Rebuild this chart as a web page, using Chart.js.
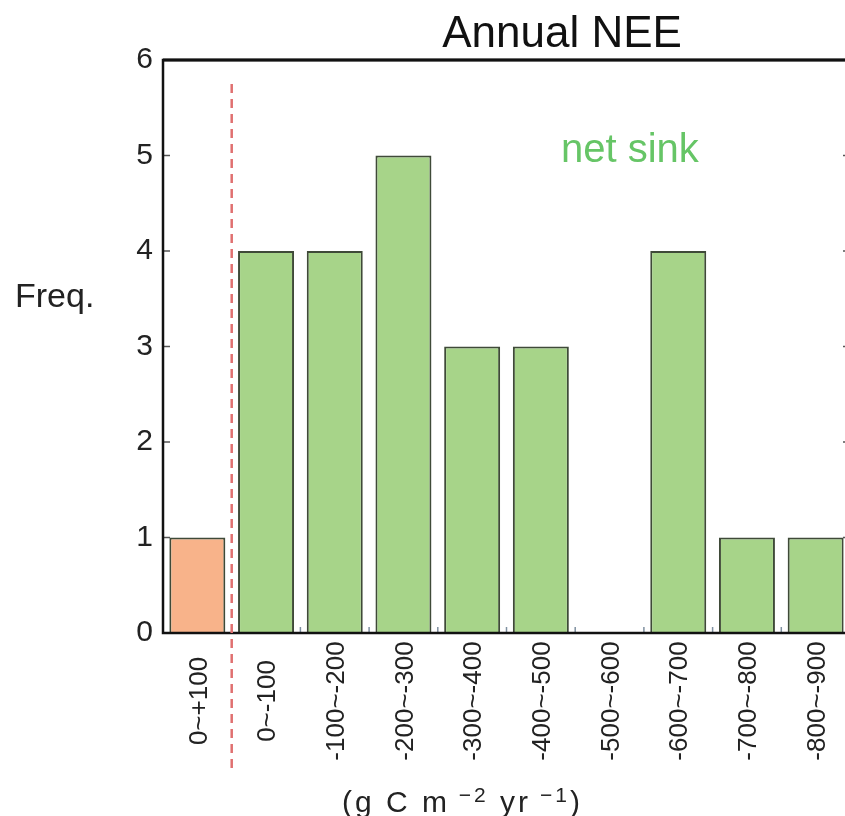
<!DOCTYPE html>
<html>
<head>
<meta charset="utf-8">
<script src="https://cdn.jsdelivr.net/npm/chart.js@4.4.1/dist/chart.umd.min.js"></script>
<style>
html,body{margin:0;padding:0;overflow:hidden;background:#fff;}
#wrap{width:880px;height:816px;}
</style>
</head>
<body>
<div id="wrap"><canvas id="c" width="880" height="816"></canvas></div>
<script>
// ---- data ----
const categories = ['0~+100','0~-100','-100~-200','-200~-300','-300~-400','-400~-500','-500~-600','-600~-700','-700~-800','-800~-900'];
const frequency = [1,4,4,5,3,3,0,4,1,1];
const yTicks = [0,1,2,3,4,5,6];
const chartTitle = 'Annual NEE';
const yTitle = 'Freq.';
const annotationText = 'net sink';

const FONT = "'Liberation Sans', Arial, Helvetica, sans-serif";
const ORANGE = '#f8b38a';
const GREEN = '#a7d489';

const overlay = {
  id: 'overlay',
  afterDatasetsDraw(chart) {
    const ctx = chart.ctx;
    const a = chart.chartArea;
    const xs = chart.scales.x, ys = chart.scales.y;
    ctx.save();
    // bottom ticks at category boundaries
    ctx.strokeStyle = '#7f90a0';
    ctx.lineWidth = 1.5;
    for (let i = 1; i < categories.length; i++) {
      const bx = (xs.getPixelForValue(i - 1) + xs.getPixelForValue(i)) / 2;
      ctx.beginPath(); ctx.moveTo(bx, a.bottom); ctx.lineTo(bx, a.bottom - 6); ctx.stroke();
    }
    // y ticks inside (left and right)
    ctx.strokeStyle = '#555';
    ctx.lineWidth = 1.5;
    yTicks.forEach(v => {
      if (v === yTicks[0] || v === yTicks[yTicks.length - 1]) return;
      const py = ys.getPixelForValue(v);
      ctx.beginPath(); ctx.moveTo(a.left, py); ctx.lineTo(a.left + 7, py); ctx.stroke();
      ctx.beginPath(); ctx.moveTo(a.right, py); ctx.lineTo(a.right - 7, py); ctx.stroke();
    });
    // frame
    ctx.strokeStyle = '#111';
    ctx.lineWidth = 2.5;
    ctx.strokeRect(a.left, a.top, a.right - a.left, a.bottom - a.top);
    ctx.lineWidth = 3;
    ctx.beginPath(); ctx.moveTo(a.left, a.top); ctx.lineTo(a.right, a.top); ctx.stroke();
    // dashed source/sink divider
    const dx = (xs.getPixelForValue(0) + xs.getPixelForValue(1)) / 2;
    ctx.strokeStyle = '#e07070';
    ctx.lineWidth = 2.5;
    ctx.setLineDash([9, 6]);
    ctx.beginPath(); ctx.moveTo(dx, a.top + 24); ctx.lineTo(dx, a.bottom + 135); ctx.stroke();
    ctx.setLineDash([]);
    // x labels, rotated, centred
    ctx.fillStyle = '#222';
    ctx.font = '26px ' + FONT;
    ctx.textAlign = 'center';
    ctx.textBaseline = 'middle';
    categories.forEach((c, i) => {
      ctx.save();
      ctx.translate(xs.getPixelForValue(i) + 2, a.bottom + 68);
      ctx.rotate(-Math.PI / 2);
      ctx.fillText(c, 0, 0);
      ctx.restore();
    });
    // title
    ctx.fillStyle = '#111';
    ctx.font = '44px ' + FONT;
    ctx.textAlign = 'center';
    ctx.textBaseline = 'alphabetic';
    ctx.fillText(chartTitle, a.left + 399, 47);
    // net sink
    ctx.fillStyle = '#66c566';
    ctx.font = '40px ' + FONT;
    ctx.textAlign = 'left';
    ctx.fillText(annotationText, a.left + 398, 162);
    // y title
    ctx.fillStyle = '#222';
    ctx.font = '34px ' + FONT;
    ctx.fillText(yTitle, 15, 307);
    // x axis title with superscripts
    const parts = [
      {t: '(g C m', s: 30, dy: 0},
      {t: ' \u22122', s: 21, dy: -10},
      {t: ' yr', s: 30, dy: 0},
      {t: ' \u22121', s: 21, dy: -10},
      {t: ')', s: 30, dy: 0}
    ];
    ctx.letterSpacing = '3px';
    let x = a.left + 179;
    const base = 812;
    ctx.fillStyle = '#222';
    parts.forEach(p => {
      ctx.font = p.s + 'px ' + FONT;
      ctx.fillText(p.t, x, base + p.dy);
      x += ctx.measureText(p.t).width;
    });
    ctx.letterSpacing = '0px';
    ctx.restore();
  }
};

new Chart(document.getElementById('c'), {
  type: 'bar',
  data: {
    labels: categories,
    datasets: [{
      data: frequency,
      backgroundColor: ctx => (categories[ctx.dataIndex] || '').includes('+') ? ORANGE : GREEN,
      borderColor: '#3f4a38',
      borderWidth: 2,
      barPercentage: 0.815,
      categoryPercentage: 1.0
    }]
  },
  options: {
    responsive: false,
    animation: false,
    layout: {padding: {top: 60, right: 30, bottom: 183, left: 0}},
    plugins: {legend: {display: false}, tooltip: {enabled: false}, title: {display: false}},
    scales: {
      x: {
        ticks: {display: false},
        grid: {display: false},
        border: {display: false},
        afterFit: s => { s.height = 0; }
      },
      y: {
        min: yTicks[0], max: yTicks[yTicks.length - 1],
        afterBuildTicks: s => { s.ticks = yTicks.map(v => ({value: v})); },
        ticks: {color: '#222', font: {family: FONT, size: 30}, padding: 10},
        grid: {display: false, drawTicks: false},
        border: {display: false},
        afterFit: s => { s.width = 163; }
      }
    }
  },
  plugins: [overlay]
});
</script>
</body>
</html>
